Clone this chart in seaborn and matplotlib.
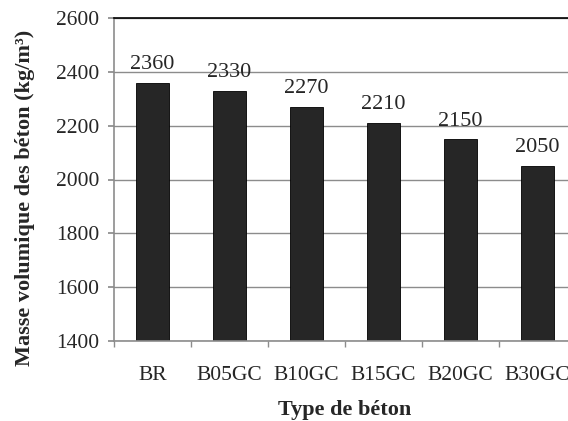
import numpy as np
import pandas as pd
import seaborn as sns
import matplotlib.pyplot as plt
from matplotlib.ticker import FixedLocator

types = ["BR", "B05GC", "B10GC", "B15GC", "B20GC", "B30GC"]
densite = [2360, 2330, 2270, 2210, 2150, 2050]

sns.set_theme(style="white")
plt.rcParams['font.family'] = ['Liberation Serif', 'DejaVu Serif']

df = pd.DataFrame({"type": types, "densite": densite})

fig = plt.figure(figsize=(5.68, 4.21), dpi=100)
ax = fig.add_axes([114 / 568, 1 - 341 / 421, 462 / 568, 323 / 421])

ax.set_axisbelow(True)
ax.yaxis.grid(True, color="#8c8c8c", linewidth=1.0)

sns.barplot(data=df, x="type", y="densite", color="#262626",
            saturation=1, width=0.42, edgecolor="black", linewidth=0.6,
            ax=ax)

# y axis starts at 1400, bars drawn from bottom
for p in ax.patches:
    h = p.get_height()
    p.set_y(1400)
    p.set_height(h - 1400)

for i, v in enumerate(densite):
    ax.text(i, v + 32, str(v), ha="center", va="bottom", fontsize=16)

ax.set_ylim(1400, 2600)
ax.set_xlim(-0.5, len(types) - 0.5)
ax.set_yticks(np.arange(1400, 2601, 200))

ax.xaxis.set_minor_locator(FixedLocator(np.arange(-0.5, len(types), 1)))
ax.tick_params(axis="x", which="major", length=0, pad=18, labelsize=15.5)
ax.tick_params(axis="x", which="minor", length=4.5, color="#8c8c8c",
               direction="out", bottom=True)
ax.tick_params(axis="y", length=4.5, color="#8c8c8c", direction="out",
               left=True, labelsize=15.5, pad=6)

for s in ["left", "bottom"]:
    ax.spines[s].set_color("#8c8c8c")
    ax.spines[s].set_linewidth(1.2)
ax.spines["top"].set_color("black")
ax.spines["top"].set_linewidth(1.2)
ax.spines["right"].set_visible(False)

ax.set_xlabel("Type de béton", fontsize=16, fontweight="bold", labelpad=11)
ax.set_ylabel("Masse volumique des béton (kg/m³)", fontsize=16,
              fontweight="bold")
ax.yaxis.set_label_coords(-0.17, 0.443)

fig.savefig("out.png", dpi=100)
